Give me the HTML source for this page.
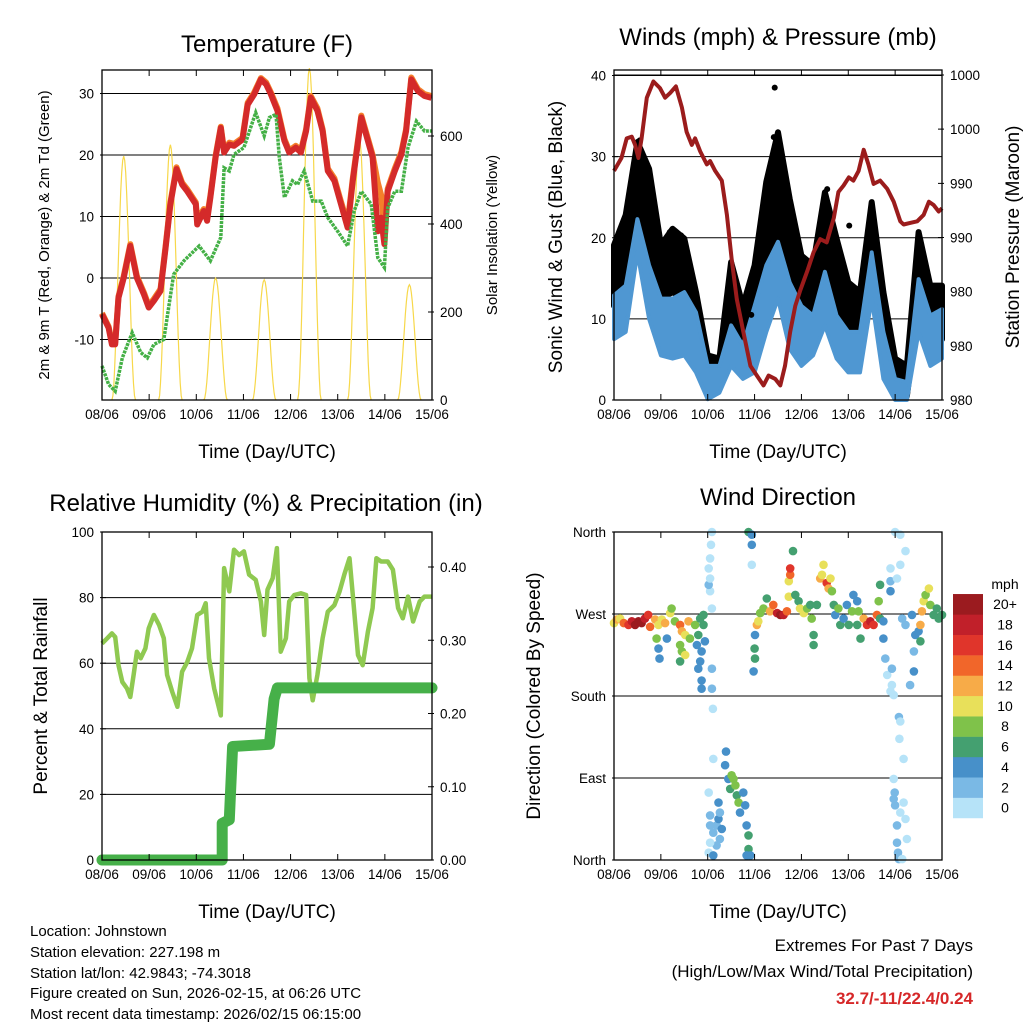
<!DOCTYPE html>
<html><head><meta charset="utf-8"><style>
body{margin:0;background:#fff;}
svg text{font-family:"Liberation Sans",Arial,sans-serif;fill:#000;}
</style></head><body>
<svg id="fig" width="1024" height="1024" viewBox="0 0 1024 1024" xmlns="http://www.w3.org/2000/svg">
<rect x="0" y="0" width="1024" height="1024" fill="#fff"/>
<g id="layers"></g>
<g id="texts">
<text x="267" y="52" font-size="24" text-anchor="middle">Temperature (F)</text>
<text x="778" y="45" font-size="24" text-anchor="middle">Winds (mph) &amp; Pressure (mb)</text>
<text x="266" y="511" font-size="24" text-anchor="middle">Relative Humidity (%) &amp; Precipitation (in)</text>
<text x="778" y="505" font-size="24" text-anchor="middle">Wind Direction</text>
<text x="267" y="458" font-size="19" text-anchor="middle">Time (Day/UTC)</text>
<text x="778" y="458" font-size="19" text-anchor="middle">Time (Day/UTC)</text>
<text x="267" y="918" font-size="19" text-anchor="middle">Time (Day/UTC)</text>
<text x="778" y="918" font-size="19" text-anchor="middle">Time (Day/UTC)</text>
<text transform="translate(49,235) rotate(-90)" font-size="15" text-anchor="middle">2m &amp; 9m T (Red, Orange) &amp; 2m Td (Green)</text>
<text transform="translate(497,235) rotate(-90)" font-size="15" text-anchor="middle">Solar Insolation (Yellow)</text>
<text transform="translate(562,237) rotate(-90)" font-size="19" text-anchor="middle">Sonic Wind &amp; Gust (Blue, Black)</text>
<text transform="translate(1019,237) rotate(-90)" font-size="19" text-anchor="middle">Station Pressure (Maroon)</text>
<text transform="translate(47,696) rotate(-90)" font-size="19" text-anchor="middle">Percent &amp; Total Rainfall</text>
<text transform="translate(540,696) rotate(-90)" font-size="19" text-anchor="middle">Direction (Colored By Speed)</text>
<g font-size="15">
<text x="30" y="936">Location: Johnstown</text>
<text x="30" y="957">Station elevation: 227.198 m</text>
<text x="30" y="978">Station lat/lon: 42.9843; -74.3018</text>
<text x="30" y="998">Figure created on Sun, 2026-02-15, at 06:26 UTC</text>
<text x="30" y="1019">Most recent data timestamp: 2026/02/15 06:15:00</text>
</g>
<g font-size="17" text-anchor="end">
<text x="973" y="951">Extremes For Past 7 Days</text>
<text x="973" y="977">(High/Low/Max Wind/Total Precipitation)</text>
<text x="973" y="1004" font-weight="bold" style="fill:#d62728">32.7/-11/22.4/0.24</text>
</g>
</g>
</svg>
<script>
// ---------- DATA ----------
const dayLabels=["08/06","09/06","10/06","11/06","12/06","13/06","14/06","15/06"];
// Temperature (F)
const redT=[0,.14,.21,.28,.35,.46,.60,.74,.89,.99,1.10,1.24,1.35,1.45,1.58,1.70,1.81,1.99,2.02,2.16,2.23,2.30,2.41,2.52,2.59,2.70,2.80,2.98,3.09,3.23,3.37,3.48,3.58,3.72,3.87,3.97,4.11,4.22,4.33,4.43,4.57,4.68,4.79,4.93,5.07,5.21,5.32,5.50,5.64,5.74,5.85,5.92,5.99,6.06,6.21,6.35,6.45,6.56,6.70,6.84,6.99];
const redV=[-5.9,-8.1,-10.8,-10.8,-3.2,0,5.2,0,-2.7,-4.8,-3.7,-2.1,4.9,12,17.7,15.2,14.1,12,8.7,10.9,9.3,13.1,19.6,24.4,20.4,21.7,21.5,22.5,28.2,29.9,32.3,31.5,29.9,27.2,22.3,20.4,21.2,20.4,23.9,29.3,27.2,23.9,17.4,15.8,12,8.2,15.8,26.1,22.3,19.6,7.6,9.8,5.5,14.1,17.4,20.1,23.9,32.3,30.4,29.6,29.3];
const orangeV=[-5.7,-7.9,-10.5,-10.5,-3,0.3,5.5,0.3,-2.4,-4.5,-3.4,-1.8,5.2,12.3,18,15.5,14.4,12.3,9.5,11.2,10,13.4,19.9,24.6,20.7,22,21.8,22.8,28.5,30.2,32.5,31.8,30.2,27.6,22.6,20.7,21.5,20.7,24.2,29.6,27.6,24.2,17.8,16.2,12.4,8.8,16.2,26.4,22.7,20,15.5,13.5,8,14.5,17.8,20.5,24.2,32.6,30.7,29.9,29.6];
const tdT=[0,.14,.28,.43,.64,.82,.96,1.10,1.31,1.52,1.74,2.06,2.30,2.52,2.59,2.70,2.80,3.01,3.26,3.44,3.55,3.69,3.76,3.87,4.04,4.15,4.29,4.47,4.65,4.79,5.0,5.21,5.35,5.50,5.71,5.85,5.99,6.06,6.21,6.35,6.49,6.67,6.84,6.99];
const tdV=[-14.3,-17.3,-18.4,-13,-8.9,-12.1,-13,-10.8,-10,0.6,2.8,5.2,2.8,6.6,17.9,17.4,20.1,21.2,26.9,23.1,26.1,26.6,19.6,13.1,15.8,15.2,17.4,12.5,12.5,9.8,7.6,5.2,10.9,14.1,12,3.3,1.7,11.4,14.1,14.1,21.2,25.5,23.9,23.9];
const solarPeakT=[.46,1.45,2.41,3.44,4.40,5.46,6.52];
const solarPeakV=[554,580,277,273,754,592,262];
const tempTicks=[-10,0,10,20,30];
const solarTicks=[0,200,400,600];
// Winds (mph)
const windT=[0,.25,.5,.75,1,1.25,1.5,1.75,2,2.25,2.5,2.75,3,3.25,3.5,3.75,4,4.25,4.5,4.75,5,5.25,5.5,5.75,6,6.25,6.5,6.75,7];
const gustHi=[19.1,22.8,31.8,28.5,19.1,21.1,19.9,13.3,5.5,5.1,17,11.6,16.6,26.9,33,24.8,17.8,16.6,25.6,19.9,14.5,13.3,24.4,13.3,5.1,4.2,20.7,14.1,14.1];
const gustLo=[11.6,12.9,22.8,18.2,12.5,13.3,12.5,7.5,0.5,1.8,8.4,4.2,8.4,12.5,18.2,12.5,9.2,9.2,14.5,9.2,6.3,5.9,14.5,4.2,0.5,0.5,11.6,8.4,7.5];
const windHi=[12.9,14.1,22.3,16.6,12.5,12.5,13.3,10.8,4.2,4.2,9.2,6.7,11.6,16.6,19.5,14.5,11.6,10.4,15.8,10.4,8.4,8.4,18.2,8.4,2.6,2.2,14.9,10.4,11.2];
const windLo=[7.5,8.4,18.2,10,5.5,5.1,5.5,3.4,0.1,0.9,4.2,2.6,3.4,8.4,12.5,6.3,4.2,5.5,9.2,5.1,3.4,3.4,12.5,2.6,0,0,8.4,4.2,5.1];
const gustOutT=[3.43,3.41,3.48,3.45,5.02,0.55,1.19,1.43,2.93,4.55];
const gustOutV=[38.5,32.4,31.8,30.6,21.5,32,20.7,20.3,10.5,26];
const presT=[0,.16,.27,.38,.45,.52,.59,.70,.84,.98,1.09,1.20,1.32,1.45,1.55,1.66,1.73,1.84,1.98,2.05,2.16,2.30,2.41,2.51,2.62,2.76,2.91,3.05,3.19,3.30,3.44,3.55,3.65,3.76,3.87,3.97,4.12,4.26,4.40,4.54,4.69,4.79,4.90,5.01,5.11,5.22,5.33,5.43,5.54,5.68,5.83,5.97,6.11,6.18,6.32,6.47,6.61,6.72,6.82,6.93,7];
const presV=[994.1,994.9,996.1,996.2,995.7,994.9,996.1,998.6,999.6,999.2,998.6,998.9,999.3,998.0,996.5,995.7,996.1,995.3,994.5,994.7,994.1,993.5,991.4,988.7,986.2,984.2,982.1,981.5,980.9,981.5,981.3,980.9,982.1,984.2,985.8,986.7,987.9,989.1,989.9,989.7,991.2,992.8,993.2,993.7,993.5,994.1,995.4,994.5,993.3,993.5,993,992.2,991,990.8,990.9,991,991.4,992.2,992,991.6,991.8];
const windTicks=[0,10,20,30,40];
const presTicks=[980,983.33,986.67,990,993.33,996.67,1000];
const presTickLabels=["980","980","980","990","990","1000","1000"];
// RH & precipitation
const rhT=[0,.11,.21,.28,.35,.43,.53,.60,.67,.74,.82,.92,.99,1.10,1.21,1.31,1.38,1.49,1.60,1.70,1.81,1.91,2.02,2.13,2.20,2.27,2.38,2.52,2.59,2.70,2.80,2.91,3.01,3.12,3.26,3.37,3.44,3.51,3.62,3.71,3.79,3.90,3.97,4.08,4.22,4.33,4.40,4.47,4.57,4.68,4.79,4.93,5.04,5.14,5.25,5.32,5.43,5.53,5.64,5.74,5.82,5.92,6.06,6.17,6.28,6.38,6.49,6.60,6.74,6.84,6.99];
const rhV=[66,67.6,69.1,68,59.4,54.3,52.3,49.7,56.4,63.5,61.5,64.5,70.6,74.7,71.7,67.6,56.4,51.3,46.7,57.4,60.4,64.5,74.7,75.7,78.3,61.5,52.3,44.1,89,81.9,94.6,93,94.1,87,85.4,78.8,68.6,82.4,85.9,95.1,63.5,67.6,78.8,80.8,81.3,80.8,55.4,48.7,56.4,67.6,75.7,77.7,81.9,87,92,80.8,62.5,59.4,69.6,76.8,92,91,91,88.5,76.8,73.7,80.3,72.7,78.8,80.3,80.3];
const rainT=[0,2.55,2.55,2.70,2.77,3.55,3.65,3.72,7];
const rainV=[0,0,0.05,0.055,0.155,0.158,0.22,0.235,0.235];
const rhTicks=[0,20,40,60,80,100];
const rainTicks=[0,0.1,0.2,0.3,0.4];
const rainTickLabels=["0.00","0.10","0.20","0.30","0.40"];
// Wind direction
const wdT=[0,.06,.13,.21,.31,.38,.45,.52,.59,.66,.73,.77,.88,.95,.91,.95,.97,1.02,1.09,1.13,1.20,1.23,1.30,1.41,1.45,1.41,1.45,1.41,1.52,1.52,1.59,1.62,1.73,1.80,1.77,1.84,1.91,1.87,1.84,1.91,1.94,1.80,1.87,1.87,2.09,2.09,2.11,2.05,2.02,2.07,2.09,2.05,2.09,2.02,2.05,
2.12,2.39,2.37,2.44,2.48,2.51,2.55,2.59,2.62,2.66,2.69,2.76,2.80,2.83,2.87,2.87,2.91,2.83,2.05,2.05,2.12,2.19,2.23,2.26,2.30,2.26,2.19,2.05,2.02,2.12,2.23,2.02,
2.87,2.94,2.94,2.94,2.98,3.01,3.00,3.01,3.05,3.08,3.12,3.19,3.26,3.33,3.40,3.48,3.55,3.62,3.69,3.73,3.73,3.76,3.76,3.82,3.87,3.94,3.97,4.05,4.12,4.19,4.22,4.26,4.26,4.33,4.40,4.44,4.47,4.54,4.58,4.62,4.65,4.69,4.72,4.79,4.83,4.90,4.97,5.01,5.08,5.11,5.19,5.22,5.19,5.26,5.33,5.40,5.47,5.54,5.61,5.65,5.68,5.68,5.75,5.75,5.79,5.83,5.90,5.93,5.90,5.90,5.90,6.04,6.00,6.11,6.11,6.22,6.15,6.36,6.43,6.40,6.40,6.32,6.22,6.50,6.54,6.57,6.61,6.65,6.72,6.75,6.82,6.89,6.93,7.00,6.54,
5.93,5.97,6.08,6.11,6.09,6.18,5.97,5.99,6.00,6.18,6.22,6.04,6.04,6.06,6.08,6.15,6.25,5.97,6.11];
const wdDir=[260,264,265,260,258,262,258,262,260,265,269,256,264,258,243,232,221,264,260,243,271,276,262,258,251,236,229,218,247,225,262,243,258,247,236,265,269,229,218,258,240,210,197,188,210,188,166,295,320,346,360,331,276,302,309,
111,119,104,89,78,93,89,82,71,63,52,74,60,38,27,12,5,5,49,38,30,38,45,52,34,23,16,19,8,5,63,74,
360,357,346,324,207,221,232,247,258,262,271,276,287,273,280,271,269,269,273,289,306,313,320,339,291,284,276,271,276,280,265,247,236,280,309,313,324,304,298,309,295,280,269,276,258,265,280,258,273,291,284,273,258,243,265,258,262,258,269,284,302,265,262,243,221,203,185,210,295,306,320,309,360,357,324,339,265,269,247,229,207,192,258,251,258,273,284,291,298,280,269,276,265,269,240,
192,181,157,152,133,111,89,74,60,63,45,38,19,8,1,1,23,67,52];
const wdSpd=[10,12,10,14,16,18,20,20,20,18,16,14,12,10,8,4,4,10,12,4,10,8,8,14,12,8,8,6,10,10,12,8,8,6,4,6,6,4,4,6,4,4,4,4,2,2,0,0,0,0,0,0,0,2,0,
0,4,4,4,6,8,8,8,6,8,4,4,4,4,6,6,4,4,2,2,2,2,4,2,4,2,2,0,0,4,4,0,
6,4,4,0,4,6,6,4,12,10,8,8,6,12,14,18,20,18,14,10,10,14,16,6,6,6,10,10,8,6,8,6,6,6,12,10,10,16,12,10,8,6,4,8,6,4,4,6,8,4,4,8,6,6,12,16,18,16,14,8,6,6,4,4,2,0,0,2,4,2,0,0,0,0,0,0,2,4,4,2,4,2,2,4,12,12,10,8,10,8,6,6,6,6,6,
0,0,2,0,0,0,0,2,2,0,0,2,2,2,2,0,0,2,0];
const wdTicks=[0,90,180,270,360];
const wdTickLabels=["North","East","South","West","North"];
const cbLabels=["0","2","4","6","8","10","12","14","16","18","20+"];
const cbColors=["#b6e3f8","#7ab9e5","#4790c9","#44a070","#7fc24a","#e8e05a","#f7ab48","#f1662a","#e0352b","#c1202a","#9b1b1f"];

// ---------- DRAWING ----------
const NS="http://www.w3.org/2000/svg";
const root=document.getElementById('layers');
function mk(tag,attrs,parent){const e=document.createElementNS(NS,tag);for(const k in attrs)e.setAttribute(k,attrs[k]);(parent||root).appendChild(e);return e;}
function lin(d0,d1,r0,r1){return v=>r0+(v-d0)*(r1-r0)/(d1-d0);}
function pathOf(xs,ys,fx,fy){return xs.map((t,i)=>(i?'L':'M')+fx(t).toFixed(1)+','+fy(ys[i]).toFixed(1)).join('');}

function frame(g,x0,y0,x1,y1,fx,name){
  const b=mk('rect',{x:x0,y:y0,width:x1-x0,height:y1-y0,fill:'none',stroke:'#000','stroke-width':1.3},g);
  
  
  dayLabels.forEach((l,i)=>{
    const x=fx(i);
    mk('line',{x1:x,x2:x,y1:y1,y2:y1-6,stroke:'#000'},g);
    mk('line',{x1:x,x2:x,y1:y0,y2:y0+6,stroke:'#000'},g);
    const t=mk('text',{x:x,y:y1+19,'font-size':13.5,'text-anchor':'middle'},g);t.textContent=l;
    
    
  });
}
function hgrid(g,x0,x1,y){mk('line',{x1:x0,x2:x1,y1:y,y2:y,stroke:'#000','stroke-width':1},g);}
function ylab(g,x,y,txt,anchor){const t=mk('text',{x:x,y:y+5,'font-size':13.5,'text-anchor':anchor},g);t.textContent=txt;
  
  
  mk('line',{x1:anchor==='end'?x+6:x-6,x2:anchor==='end'?x+12:x-12,y1:y,y2:y,stroke:'#000'},g);}

// Panel 1: temperature
(function(){
  const g=mk('g',{});
  
  
  const X0=102,X1=432,Y0=70,Y1=400;
  const fx=lin(0,7,X0,X1), fy=lin(0,30,278,93.5), fs=lin(0,600,400,136);
  tempTicks.forEach(v=>{hgrid(g,X0,X1,fy(v));ylab(g,X0-8,fy(v),String(v),'end');});
  solarTicks.forEach(v=>ylab(g,X1+8,fs(v),String(v),'start'));
  solarPeakT.forEach((c,i)=>{
    const ts=[],vs=[];
    for(let k=0;k<=24;k++){const u=k/24;ts.push(c-0.25+0.5*u);vs.push(solarPeakV[i]*Math.pow(Math.sin(Math.PI*u),2));}
    const p=mk('path',{d:pathOf(ts,vs,fx,fs),fill:'none',stroke:'#f7d84a','stroke-width':1.2},g);
    
    
  });
  const o=mk('path',{d:pathOf(redT,orangeV,fx,fy),fill:'none',stroke:'#f47f2a','stroke-width':6,'stroke-linejoin':'round'},g);
  
  
  const r=mk('path',{d:pathOf(redT,redV,fx,fy),fill:'none',stroke:'#d42a2a','stroke-width':6,'stroke-linejoin':'round'},g);
  
  
  const d=mk('path',{d:pathOf(tdT,tdV,fx,fy),fill:'none',stroke:'#44b046','stroke-width':3.5,'stroke-dasharray':'3 1'},g);
  
  
  frame(g,X0,Y0,X1,Y1,fx,'temperature');
})();

// Panel 2: winds
(function(){
  const g=mk('g',{});
  
  
  const X0=614,X1=942,Y0=70,Y1=400;
  const fx=lin(0,7,X0,X1), fy=lin(0,40,400,75.5), fp=lin(980,1000,400,75);
  windTicks.forEach(v=>{if(v>0)hgrid(g,X0,X1,fy(v));ylab(g,X0-8,fy(v),String(v),'end');});
  presTicks.forEach((v,i)=>ylab(g,X1+8,fp(v),presTickLabels[i],'start'));
  function env(hi,lo,col,w,name){
    const ts=windT.concat(windT.slice().reverse()), vs=hi.concat(lo.slice().reverse());
    const p=mk('path',{d:pathOf(ts,vs,fx,fy)+'Z',fill:col,stroke:col,'stroke-width':w,'stroke-linejoin':'round'},g);
    
    
  }
  env(gustHi,gustLo,'#000',6,'gust-scatter');
  env(windHi,windLo,'#4f97d2',4,'sonic-wind-scatter');
  gustOutT.forEach((t,i)=>{const c=mk('circle',{cx:fx(t),cy:fy(gustOutV[i]),r:3,fill:'#000'},g);
    
    });
  const p=mk('path',{d:pathOf(presT,presV,fx,fp),fill:'none',stroke:'#9b1c1c','stroke-width':4,'stroke-linejoin':'round'},g);
  
  
  hgrid(g,X0,X1,75);
  frame(g,X0,Y0,X1,Y1,fx,'winds');
})();

// Panel 3: RH & rain
(function(){
  const g=mk('g',{});
  
  
  const X0=102,X1=432,Y0=532,Y1=860;
  const fx=lin(0,7,X0,X1), fy=lin(0,100,860,532), fr=lin(0,0.4,860,567);
  rhTicks.forEach(v=>{if(v>0&&v<100)hgrid(g,X0,X1,fy(v));ylab(g,X0-8,fy(v),String(v),'end');});
  rainTicks.forEach((v,i)=>ylab(g,X1+8,fr(v),rainTickLabels[i],'start'));
  const h=mk('path',{d:pathOf(rhT,rhV,fx,fy),fill:'none',stroke:'#8fc951','stroke-width':4.5,'stroke-linejoin':'round'},g);
  
  
  const r=mk('path',{d:pathOf(rainT,rainV,fx,fr),fill:'none',stroke:'#46b049','stroke-width':11,'stroke-linejoin':'round','stroke-linecap':'round'},g);
  
  
  frame(g,X0,Y0,X1,Y1,fx,'humidity');
})();

// Panel 4: wind direction
(function(){
  const g=mk('g',{});
  
  
  const X0=614,X1=942,Y0=532,Y1=860;
  const fx=lin(0,7,X0,X1), fy=lin(0,360,860,532);
  wdTicks.forEach((v,i)=>{if(v>0&&v<360)hgrid(g,X0,X1,fy(v));ylab(g,X0-8,fy(v),wdTickLabels[i],'end');});
  wdT.forEach((t,i)=>{
    const lvl=Math.min(10,Math.floor(wdSpd[i]/2));
    const c=mk('circle',{cx:fx(t).toFixed(1),cy:fy(wdDir[i]).toFixed(1),r:4.3,fill:cbColors[lvl]},g);
    
    
  });
  frame(g,X0,Y0,X1,Y1,fx,'wind-direction');
  const cb=mk('g',{},g);
  
  
  const ut=mk('text',{x:1005,y:589,'font-size':14,'text-anchor':'middle'},cb);ut.textContent='mph';
  cbColors.forEach((col,i)=>{
    const y=818-(i+1)*20.36;
    mk('rect',{x:953,y:y,width:30,height:20.6,fill:col},cb);
    const t=mk('text',{x:1005,y:y+15,'font-size':14,'text-anchor':'middle'},cb);t.textContent=cbLabels[i];
    
    
  });
})();
</script>
</body></html>
